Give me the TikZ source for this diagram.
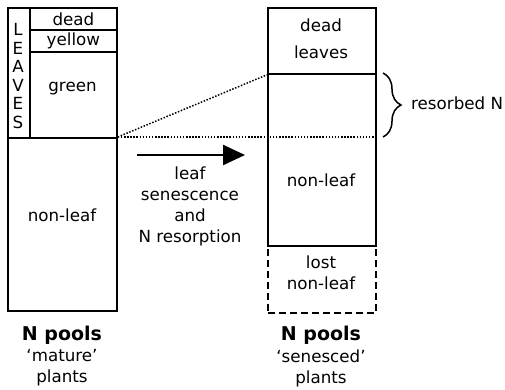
\documentclass[tikz,border=0pt]{standalone}
\usepackage{fontspec}
\setmainfont{DejaVu Sans}
\usetikzlibrary{arrows.meta,decorations.pathreplacing}
\tikzset{
  pool/.style={draw, line width=1.8pt, minimum width=#1, inner sep=0pt, anchor=north west},
  lbl/.style={inner sep=0pt, align=center, font=\fontsize{16.7}{21}\selectfont},
  dotline/.style={line width=1.5pt, dash pattern=on 1.5pt off 1.6pt},
  lostbox/.style={draw, line width=1.8pt, dash pattern=on 7pt off 4pt, inner sep=0pt, anchor=north west},
}
\begin{document}
\begin{tikzpicture}[x=1pt,y=-1pt]
\useasboundingbox (0,0) rectangle (505,390);
% left column
\node[pool=109, minimum height=173] (nonleafL) at (7,137) {};
\node[lbl] (nonleafLt) at (62,215) {non-leaf};
\node[pool=22, minimum height=130] (leaves) at (7,7) {};
\node[lbl, font=\fontsize{16.7}{18.6}\selectfont] (leavest) at (18,76) {L\\E\\A\\V\\E\\S};
\node[pool=87, minimum height=22] (dead) at (29,7) {};
\node[lbl] at (dead.center) {dead};
\node[pool=87, minimum height=22] (yellow) at (29,29) {};
\node[lbl] at (yellow.center) {yellow};
\node[pool=87, minimum height=86] (green) at (29,51) {};
\node[lbl] at (72.5,89) {green};
% right column
\node[lostbox, minimum width=108, minimum height=67] (lost) at (267,245) {};
\node[lbl] (lostt) at (321,273) {lost\\non-leaf};
\node[pool=108, minimum height=172] (nonleafR) at (267,73) {};
\node[lbl] (nonleafRt) at (321,180) {non-leaf};
\node[pool=108, minimum height=66] (deadR) at (267,7) {};
\node[lbl, font=\fontsize{16.7}{27}\selectfont] (deadRt) at (321,39) {dead\\leaves};
% dotted lines
\coordinate (rb) at (375,137);
\draw[dotline] (nonleafL.north east) -- (deadR.south west);
\draw[dotline] (nonleafL.north east) -- (rb);
% brace
\coordinate (bt) at (383,73);
\coordinate (bb) at (383,137);
\draw[line width=1.5pt, decorate, decoration={brace, amplitude=18pt, aspect=0.5}] (bt) -- (bb);
\node[lbl, anchor=west] (resN) at (411,103) {resorbed N};
% arrow
\coordinate (a1) at (137,155);
\coordinate (a2) at (245,155);
\draw[line width=2.4pt, -{Triangle[length=22pt,width=20pt]}] (a1) -- (a2);
\node[lbl] (proc) at (190,206) {leaf\\senescence\\and\\N resorption};
% bottom labels
\node[lbl, font=\fontsize{19}{21}\selectfont\bfseries] (np1) at (62,335) {N pools};
\node[lbl] (np1b) at (62,368) {‘mature’\\plants};
\node[lbl, font=\fontsize{19}{21}\selectfont\bfseries] (np2) at (321,335) {N pools};
\node[lbl] (np2b) at (321,368) {‘senesced’\\plants};
\end{tikzpicture}
\end{document}
